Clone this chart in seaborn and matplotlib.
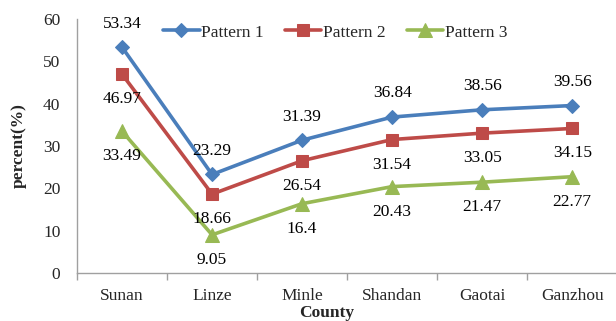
import matplotlib
matplotlib.use("Agg")
import matplotlib.pyplot as plt
import seaborn as sns
import pandas as pd
from matplotlib.ticker import FixedLocator

counties = ["Sunan", "Linze", "Minle", "Shandan", "Gaotai", "Ganzhou"]
pattern1 = [53.34, 23.29, 31.39, 36.84, 38.56, 39.56]
pattern2 = [46.97, 18.66, 26.54, 31.54, 33.05, 34.15]
pattern3 = [33.49, 9.05, 16.4, 20.43, 21.47, 22.77]
series_names = ["Pattern 1", "Pattern 2", "Pattern 3"]
y_ticks = [0, 10, 20, 30, 40, 50, 60]

sns.set_theme(style="white")
plt.rcParams["font.family"] = ["Liberation Serif", "DejaVu Serif"]

rows = []
for name, vals in zip(series_names, [pattern1, pattern2, pattern3]):
    for c, v in zip(counties, vals):
        rows.append({"County": c, "value": v, "Pattern": name})
df = pd.DataFrame(rows)

colors = {"Pattern 1": "#4A7EBB", "Pattern 2": "#BE4B48", "Pattern 3": "#98B954"}
markers = {"Pattern 1": "D", "Pattern 2": "s", "Pattern 3": "^"}
msize = {"Pattern 1": 7.5, "Pattern 2": 9, "Pattern 3": 10}

fig = plt.figure(figsize=(6.16, 3.21), dpi=100)
ax = fig.add_axes([0.125, 0.149, 0.877, 0.792])

for name in series_names:
    sub = df[df["Pattern"] == name]
    sns.lineplot(data=sub, x="County", y="value", ax=ax, color=colors[name],
                 marker=markers[name], markersize=msize[name], linewidth=2.6,
                 markeredgecolor=colors[name], label=name, sort=False)

fs = 12.5
offsets = {"Pattern 1": 17, "Pattern 2": -18, "Pattern 3": -18}
for name, vals in zip(series_names, [pattern1, pattern2, pattern3]):
    for i, v in enumerate(vals):
        ax.annotate(f"{v:g}", (i, v), xytext=(0, offsets[name]), textcoords="offset points",
                    ha="center", va="center", fontsize=fs, color="black")

ax.set_xlim(-0.5, len(counties) - 0.5)
ax.set_ylim(0, 60)
ax.set_yticks(y_ticks)
ax.set_xticks(range(len(counties)))
ax.set_xticklabels(counties, fontsize=fs)
ax.xaxis.set_minor_locator(FixedLocator([i + 0.5 for i in range(-1, len(counties))]))
ax.tick_params(axis="x", which="major", length=0, pad=11)
ax.tick_params(axis="x", which="minor", length=5, color="#A0A0A0", direction="out", bottom=True)
ax.tick_params(axis="y", length=0, pad=12, labelsize=fs)

for s in ["top", "right"]:
    ax.spines[s].set_visible(False)
for s in ["left", "bottom"]:
    ax.spines[s].set_color("#A0A0A0")
    ax.spines[s].set_linewidth(1)

ax.set_ylabel("percent(%)", fontsize=fs, fontweight="bold", labelpad=12)
ax.set_xlabel("")
fig.text(0.53, 0.025, "County", fontsize=fs, fontweight="bold", ha="center", va="center")

leg = ax.legend(loc="upper center", bbox_to_anchor=(0.478, 1.04), ncol=3, frameon=False,
                fontsize=fs, handlelength=2.1, columnspacing=1.2, handletextpad=0.1)

fig.savefig("out.png", dpi=100)
